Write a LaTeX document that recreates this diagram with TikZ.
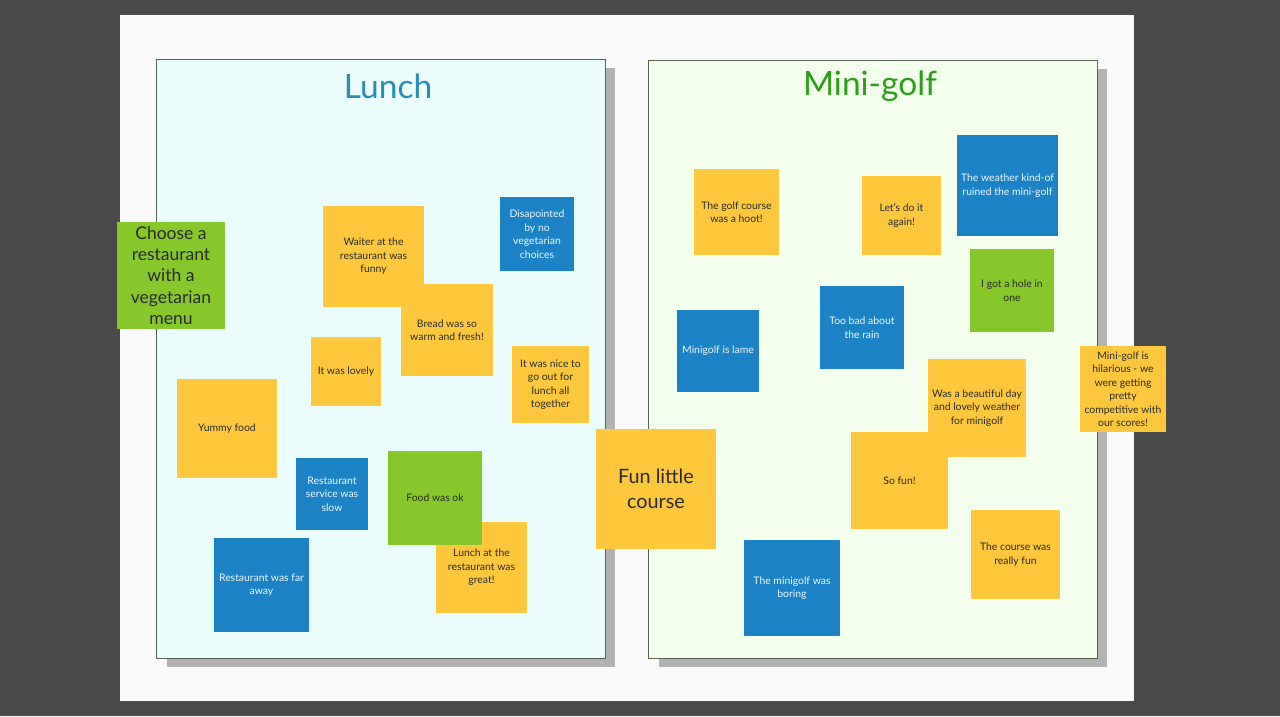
\documentclass[tikz,border=0pt]{standalone}
\usepackage{fontspec}
\setmainfont{Lato}
\usetikzlibrary{positioning}
\definecolor{boardBack}{HTML}{4A4A4A}
\definecolor{boardPage}{HTML}{FAFAFA}
\definecolor{boardShade}{HTML}{B3B3B3}
\definecolor{boardEdge}{HTML}{5A5F5A}
\definecolor{lunchBg}{HTML}{EAFCFB}
\definecolor{golfBg}{HTML}{F3FFEC}
\definecolor{lunchInk}{HTML}{2A8DB3}
\definecolor{golfInk}{HTML}{2E9E1A}
\definecolor{noteYellow}{HTML}{FFC83C}
\definecolor{noteBlue}{HTML}{1B82C6}
\definecolor{noteGreen}{HTML}{86C82A}
\definecolor{noteDark}{HTML}{2A2A2A}
\definecolor{noteLight}{HTML}{EEF6FC}

\begin{document}
\begin{tikzpicture}[x=1pt,y=-1pt,
      frame/.style={draw=boardEdge,line width=0.8pt,inner sep=0pt},
      title/.style={font=\fontsize{33.5}{36}\selectfont},
      sz/.style 2 args={minimum width=#1pt,minimum height=#2pt},
      note/.style={inner sep=1pt,align=center,font=\fontsize{10.4}{13.5}\selectfont},
      yel/.style={note,fill=noteYellow,text=noteDark},
      blu/.style={note,fill=noteBlue,text=noteLight},
      grn/.style={note,fill=noteGreen,text=noteDark},
      big/.style={font=\fontsize{17.5}{21.3}\selectfont},
      huge/.style={font=\fontsize{19.8}{25}\selectfont}]
    % board and page
    \fill[boardBack] (0,0) rectangle (1280,716);
    \fill[boardPage] (120,15) rectangle (1134,701);
    % the two frames
    \fill[boardShade] (167,68) rectangle (615,667);
    \fill[boardShade] (659,69) rectangle (1107,667);
    \node[frame,fill=lunchBg,sz={449}{599}] (lunch) at (380.5,358.5) {};
    \node[frame,fill=golfBg,sz={449}{598}] (golf) at (872.5,359) {};
    \node[title,text=lunchInk] (lunchtitle) at (388,86) {Lunch};
    \node[title,text=golfInk] (golftitle) at (870,86) {Mini-golf};
    % lunch notes
    \node[grn,big,sz={108}{107}] (choose) at (171,275.5) {Choose a\\restaurant\\with a\\vegetarian\\menu};
    \node[yel,sz={101}{101}] (waiter) at (373.5,256.5) {Waiter at the\\restaurant was\\funny};
    \node[yel,sz={92}{92}] (bread) at (447,330) {Bread was so\\warm and fresh!};
    \node[blu,sz={74}{74}] (novege) at (537,234) {Disapointed\\by no\\vegetarian\\choices};
    \node[yel,sz={77}{77}] (together) at (550.5,384.5) {It was nice to\\go out for\\lunch all\\together};
    \node[yel,sz={70}{69}] (lovely) at (346,371.5) {It was lovely};
    \node[yel,sz={100}{99}] (yummy) at (227,428.5) {Yummy food};
    \node[blu,sz={72}{72}] (slow) at (332,494) {Restaurant\\service was\\slow};
    \node[yel,sz={91}{91}] (great) at (481.5,567.5) {Lunch at the\\restaurant was\\great!};
    \node[grn,sz={94}{94}] (foodok) at (435,498) {Food was ok};
    \node[blu,sz={95}{94}] (faraway) at (261.5,585) {Restaurant was far\\away};
    % mini-golf notes
    \node[yel,sz={85}{86}] (hoot) at (736.5,212) {The golf course\\was a hoot!};
    \node[yel,sz={79}{79}] (again) at (901.5,215.5) {Let's do it\\again!};
    \node[blu,sz={101}{101}] (weather) at (1007.5,185.5) {The weather kind-of\\ruined the mini-golf};
    \node[grn,sz={84}{83}] (hole) at (1012,290.5) {I got a hole in\\one};
    \node[blu,sz={84}{83}] (rain) at (862,327.5) {Too bad about\\the rain};
    \node[blu,sz={82}{82}] (lame) at (718,351) {Minigolf is lame};
    \node[yel,sz={98}{98}] (beautiful) at (977,408) {Was a beautiful day\\and lovely weather\\for minigolf};
    \node[yel,sz={97}{97}] (sofun) at (899.5,480.5) {So fun!};
    \node[yel,sz={89}{89}] (reallyfun) at (1015.5,554.5) {The course was\\really fun};
    \node[blu,sz={96}{96}] (boring) at (792,588) {The minigolf was\\boring};
    \node[yel,huge,sz={120}{120}] (funlittle) at (656,489) {Fun little\\course};
    \node[yel,sz={86}{86}] (hilarious) at (1123,389) {Mini-golf is\\hilarious - we\\were getting\\pretty\\competitive with\\our scores!};
  \end{tikzpicture}
\end{document}
